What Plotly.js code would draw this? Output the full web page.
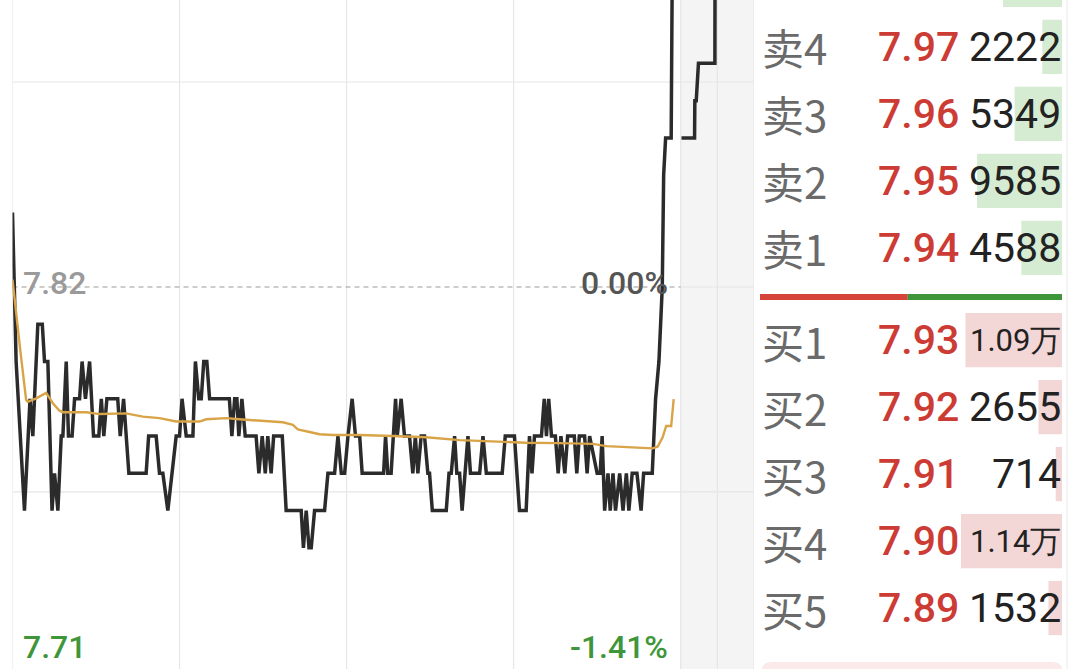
<!DOCTYPE html>
<html><head><meta charset="utf-8">
<script src="https://cdn.plot.ly/plotly-3.0.1.min.js"></script>
<style>html,body{margin:0;padding:0;background:#fff;overflow:hidden}#chart{width:1080px;height:669px}</style>
</head><body><div id="chart"></div>
<script>
// ---- data ----
const prevClose = 7.82;
const lowPrice = 7.71;
const gridPrices = [7.875, 7.765];
const timeGrid = [0, 60, 120, 180, 240];
const lateGrid = [253.2, 266.35];

const priceMinutes = [0,1.3,4.3,6.3,7.3,9.1,10.7,11.5,12.7,14.2,15.1,16.3,17.5,18.1,19.3,20.1,21.4,22.3,24.1,25.0,26.2,27.7,29.1,31.0,31.9,32.8,33.9,37.8,38.7,39.9,41.8,48.0,48.9,51.6,52.8,54.0,55.8,57.2,58.8,60.0,60.9,62.4,64.8,65.7,66.9,67.8,68.7,69.8,70.8,77.9,78.8,79.8,80.6,81.3,82.4,83.6,87.5,88.5,89.7,90.8,91.7,92.9,93.8,96.9,98.3,103.7,104.5,105.5,106.5,107.3,108.5,112.1,113.3,115.7,116.9,118.1,119.3,120.5,122.0,123.2,124.7,125.6,133.3,134.0,134.8,136.0,137.6,138.2,139.6,140.8,142.6,143.8,144.7,145.6,146.8,148.0,149.2,149.8,150.8,155.8,156.8,157.6,158.8,159.6,160.6,161.5,162.4,163.6,164.5,167.8,169.0,170.2,175.9,177.0,180.3,182.1,184.5,185.7,186.6,187.5,190.0,191.0,191.8,192.6,193.6,195.0,196.0,197.0,198.4,199.4,201.8,202.7,203.6,205.5,206.4,207.3,210.0,211.1,211.8,212.7,213.9,214.7,215.7,216.6,218.1,219.3,220.5,221.4,222.6,224.3,225.8,226.7,229.8,231.0,232.2,233.4,233.9,234.6,236.6,237.2];
const priceValues = [7.84,7.80,7.76,7.79,7.78,7.81,7.81,7.80,7.80,7.76,7.77,7.76,7.78,7.78,7.80,7.78,7.78,7.79,7.79,7.80,7.79,7.80,7.78,7.78,7.79,7.78,7.79,7.79,7.78,7.79,7.77,7.77,7.78,7.78,7.77,7.77,7.76,7.77,7.78,7.78,7.79,7.78,7.78,7.80,7.79,7.79,7.80,7.80,7.79,7.79,7.78,7.79,7.79,7.78,7.79,7.78,7.78,7.77,7.78,7.77,7.78,7.77,7.78,7.78,7.76,7.76,7.75,7.76,7.75,7.75,7.76,7.76,7.77,7.77,7.78,7.77,7.77,7.78,7.79,7.78,7.78,7.77,7.77,7.78,7.77,7.77,7.79,7.78,7.79,7.78,7.78,7.77,7.78,7.77,7.78,7.78,7.77,7.77,7.76,7.76,7.77,7.77,7.78,7.77,7.77,7.76,7.77,7.78,7.77,7.77,7.78,7.77,7.77,7.78,7.78,7.76,7.76,7.78,7.77,7.78,7.78,7.79,7.78,7.79,7.78,7.78,7.77,7.78,7.77,7.78,7.78,7.77,7.78,7.78,7.77,7.78,7.77,7.77,7.78,7.76,7.77,7.76,7.77,7.76,7.77,7.76,7.77,7.76,7.77,7.77,7.76,7.77,7.77,7.79,7.80,7.82,7.85,7.86,7.86,7.93];

const avgMinutes = [0,1.3,2.8,4.9,5.5,8.5,12.1,14.5,16.9,18.1,26.5,31.3,37.3,40.8,46.8,52.8,58.8,67.2,69.6,76.8,81.5,91.1,97.1,100.7,102.5,107.9,110.3,115.1,124.7,136.6,148.6,160.6,172.5,184.5,196.5,208.5,213.3,220.5,230.0,231.8,233.6,234.8,236.6,237.5];
const avgValues = [7.822,7.8125,7.803,7.7897,7.7892,7.7901,7.7916,7.7888,7.7868,7.7864,7.7864,7.7859,7.7861,7.7861,7.7852,7.7848,7.7839,7.7839,7.7845,7.7848,7.7845,7.7841,7.7837,7.7830,7.7818,7.7809,7.7805,7.7803,7.7803,7.7800,7.7797,7.7789,7.7785,7.7782,7.7781,7.7779,7.7773,7.7770,7.7767,7.7772,7.7798,7.7827,7.7827,7.7899];

const lateMinutes = [240.3,245.0,245.1,245.6,246.4,252.3,252.4];
const lateValues = [7.86,7.86,7.87,7.87,7.88,7.88,7.93];

const sellLabels = ['卖5','卖4','卖3','卖2','卖1'];
const sellLevels = [5,4,3,2,1];
const sellPrices = [7.98,7.97,7.96,7.95,7.94];
const sellVolumes = [6650,2222,5349,9585,4588];
const buyLabels = ['买1','买2','买3','买4','买5'];
const buyLevels = [1,2,3,4,5];
const buyPrices = [7.93,7.92,7.91,7.90,7.89];
const buyVolumes = [10900,2655,714,11400,1532];

// ---- layout helpers ----
const W = 1080, H = 669;
const px = v => v / W;
const py = v => 1 - v / H;
const sum = a => a.reduce((s, v) => s + v, 0);
const buyTotal = sum(buyVolumes), sellTotal = sum(sellVolumes);
const maxVol = Math.max(...buyVolumes, ...sellVolumes);
const fmtVol = v => v >= 10000 ? (v / 10000).toFixed(2) + '万' : String(v);
const pct = p => ((p - prevClose) / prevClose * 100).toFixed(2) + '%';

const RED = '#cd3b35', GREEN = '#3f963a', GRID = '#e6e6e6';
const NUM = 'Roboto, sans-serif', CJK = '"Noto Sans CJK SC", sans-serif';

const traces = [
  {x: priceMinutes, y: priceValues, type: 'scatter', mode: 'lines', xaxis: 'x', yaxis: 'y',
   line: {color: '#2b2b2b', width: 3.5}, hoverinfo: 'skip'},
  {x: lateMinutes, y: lateValues, type: 'scatter', mode: 'lines', xaxis: 'x', yaxis: 'y',
   line: {color: '#2b2b2b', width: 3.5}, hoverinfo: 'skip'},
  {x: avgMinutes, y: avgValues, type: 'scatter', mode: 'lines', xaxis: 'x', yaxis: 'y',
   line: {color: '#d8a447', width: 2.4}, hoverinfo: 'skip'},
  {x: sellVolumes, y: sellLevels, type: 'bar', orientation: 'h', xaxis: 'x2', yaxis: 'y2', width: 0.81,
   marker: {color: '#d5ebd2', line: {width: 0}}, hoverinfo: 'skip'},
  {x: buyVolumes, y: buyLevels, type: 'bar', orientation: 'h', xaxis: 'x2', yaxis: 'y3', width: 0.81,
   marker: {color: '#f3d7d7', line: {width: 0}}, hoverinfo: 'skip'},
  {x: [buyTotal], y: [0], type: 'bar', orientation: 'h', xaxis: 'x3', yaxis: 'y4', width: 1,
   marker: {color: '#d5443b', line: {width: 0}}, hoverinfo: 'skip'},
  {x: [sellTotal], base: [buyTotal], y: [0], type: 'bar', orientation: 'h', xaxis: 'x3', yaxis: 'y4', width: 1,
   marker: {color: GREEN, line: {width: 0}}, hoverinfo: 'skip'}
];

const hidden = {visible: false, fixedrange: true};
const shapes = [];
// late-session band
shapes.push({type: 'rect', xref: 'x', yref: 'paper', x0: timeGrid[4], x1: lateGrid[1], y0: 0, y1: 1,
  fillcolor: '#f4f4f4', line: {width: 0}, layer: 'below'});
timeGrid.concat(lateGrid).forEach(t => shapes.push({type: 'line', xref: 'x', yref: 'paper', x0: t, x1: t, y0: 0, y1: 1,
  line: {color: GRID, width: 1.2}, layer: 'below'}));
gridPrices.forEach(p => shapes.push({type: 'line', xref: 'x', yref: 'y', x0: 0, x1: lateGrid[1], y0: p, y1: p,
  line: {color: GRID, width: 1.2}, layer: 'below'}));
shapes.push({type: 'line', xref: 'x', yref: 'y', x0: timeGrid[4], x1: lateGrid[1], y0: prevClose, y1: prevClose,
  line: {color: GRID, width: 1.2}, layer: 'below'});
shapes.push({type: 'line', xref: 'x', yref: 'y', x0: 0, x1: timeGrid[4], y0: prevClose, y1: prevClose,
  line: {color: '#9a9a9a', width: 1.2, dash: '5px,4px'}, layer: 'below'});
// order-book right border and bottom box
shapes.push({type: 'line', xref: 'paper', yref: 'paper', x0: px(1067), x1: px(1067), y0: 0, y1: 1,
  line: {color: '#efefef', width: 1.2}});
shapes.push({type: 'path', xref: 'paper', yref: 'paper',
  path: `M ${px(762)} ${py(690)} L ${px(762)} ${py(670)} Q ${px(762)} ${py(662)} ${px(772)} ${py(662)} L ${px(1052)} ${py(662)} Q ${px(1062)} ${py(662)} ${px(1062)} ${py(670)} L ${px(1062)} ${py(690)} Z`,
  fillcolor: '#fbeaea', line: {width: 0}, layer: 'below'});

const annotations = [];
const ann = (o) => annotations.push(Object.assign({showarrow: false, borderpad: 0}, o));
ann({xref: 'paper', yref: 'y', x: px(22), y: prevClose, xanchor: 'left', yanchor: 'middle', yshift: 4,
  text: prevClose.toFixed(2), font: {family: NUM, size: 32, color: '#9a9a9a', weight: 500}});
ann({xref: 'paper', yref: 'y', x: px(669), y: prevClose, xanchor: 'right', yanchor: 'middle', yshift: 4,
  text: pct(prevClose), font: {family: NUM, size: 32, color: '#555555', weight: 500}});
ann({xref: 'paper', yref: 'paper', x: px(22), y: py(647), xanchor: 'left', yanchor: 'middle',
  text: lowPrice.toFixed(2), font: {family: NUM, size: 32, color: GREEN, weight: 500}});
ann({xref: 'paper', yref: 'paper', x: px(669), y: py(647), xanchor: 'right', yanchor: 'middle',
  text: pct(lowPrice), font: {family: NUM, size: 32, color: GREEN, weight: 500}});

function bookRow(label, level, price, vol, yref) {
  ann({xref: 'paper', yref, x: px(761), y: level, xanchor: 'left', yanchor: 'middle',
    text: label, font: {family: CJK, size: 42, color: '#6a6a6a'}});
  ann({xref: 'paper', yref, x: px(877), y: level, xanchor: 'left', yanchor: 'middle',
    text: price.toFixed(2), font: {family: NUM, size: 41, color: RED, weight: 500}});
  const big = vol >= 10000;
  ann({xref: 'paper', yref, x: px(1062), y: level, xanchor: 'right', yanchor: 'middle',
    text: fmtVol(vol), font: {family: NUM, size: big ? 31 : 41, color: '#222222'}});
}
sellLabels.forEach((l, i) => bookRow(l, sellLevels[i], sellPrices[i], sellVolumes[i], 'y2'));
buyLabels.forEach((l, i) => bookRow(l, buyLevels[i], buyPrices[i], buyVolumes[i], 'y3'));

const layout = {
  width: W, height: H, margin: {l: 0, r: 0, t: 0, b: 0, pad: 0},
  paper_bgcolor: '#ffffff', plot_bgcolor: 'rgba(0,0,0,0)', showlegend: false, barmode: 'overlay',
  xaxis: Object.assign({domain: [px(12.5), px(754)], range: [0, lateGrid[1]], anchor: 'y'}, hidden),
  yaxis: Object.assign({domain: [0, 1], range: [7.7175, 7.8970], anchor: 'x'}, hidden),
  xaxis2: Object.assign({domain: [px(952), px(1062)], range: [maxVol * 110 / 101, 0], anchor: 'y2'}, hidden),
  yaxis2: Object.assign({domain: [0, 1], range: [-5.284, 4.701], anchor: 'x2'}, hidden),
  yaxis3: Object.assign({domain: [0, 1], range: [5.910, -4.075], anchor: 'x2', overlaying: 'y2'}, hidden),
  xaxis3: Object.assign({domain: [px(760), px(1062)], range: [0, buyTotal + sellTotal], anchor: 'y4'}, hidden),
  yaxis4: Object.assign({domain: [py(300), py(294)], range: [-0.5, 0.5], anchor: 'x3'}, hidden),
  shapes, annotations, hovermode: false
};

Plotly.newPlot('chart', traces, layout, {displayModeBar: false, staticPlot: true});
</script></body></html>
